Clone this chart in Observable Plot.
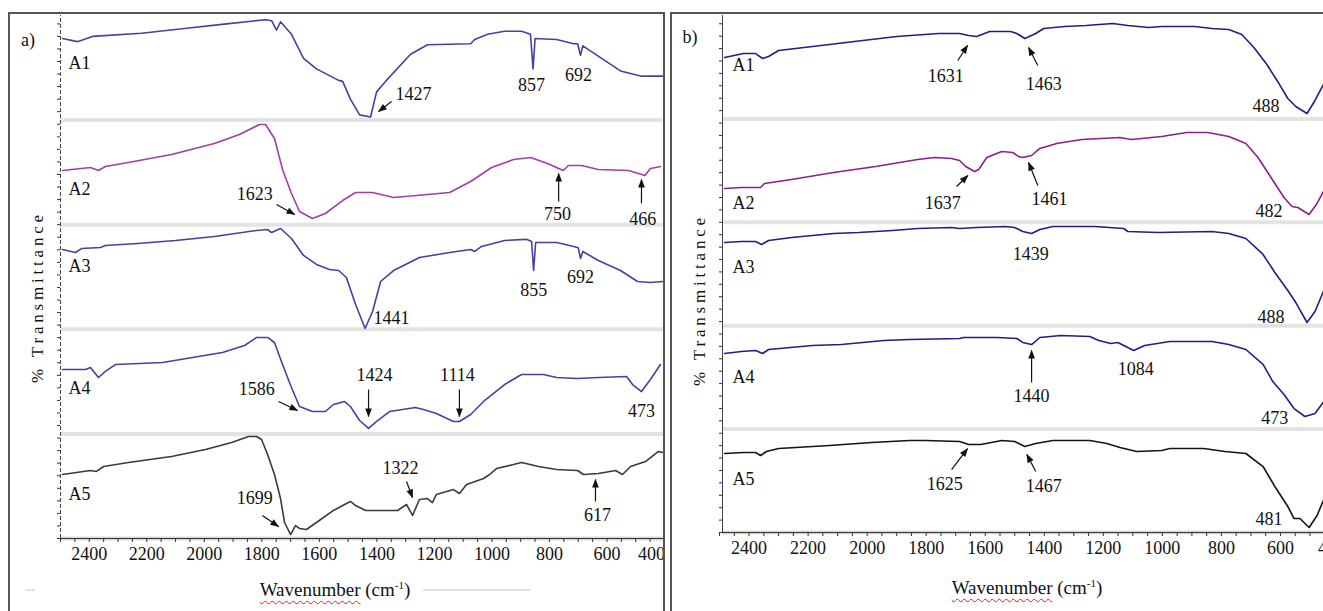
<!DOCTYPE html>
<html><head><meta charset="utf-8">
<script src="https://cdn.jsdelivr.net/npm/d3@7"></script>
<script src="https://cdn.jsdelivr.net/npm/@observablehq/plot@0.6"></script>
<style>
body{margin:0;background:#fff}
#page{position:relative;width:1323px;height:611px;overflow:hidden;background:#fff;font-family:"Liberation Serif","Times New Roman",serif;color:#111}
.frame{position:absolute;border:2px solid #555;box-sizing:border-box;pointer-events:none}
.ylab{position:absolute;transform:translate(-50%,-50%) rotate(-90deg);font-size:17px;letter-spacing:3.8px;white-space:nowrap}
.xlab{position:absolute;transform:translate(-50%,-50%);font-size:19px;white-space:nowrap}
.plab{position:absolute;transform:translate(-50%,-50%);font-size:18px}
.wavy{text-decoration:underline wavy #e02020;text-decoration-thickness:1px;text-underline-offset:4px}
.gl{position:absolute;height:2px;background:#e2e2e2}
</style></head>
<body>
<div id="page">
  <div id="left" style="position:absolute;left:0;top:0;width:668px;height:611px"></div>
  <div id="right" style="position:absolute;left:665px;top:0;width:680px;height:611px"></div>
  <div class="frame" style="left:8px;top:12px;width:657px;height:640px"></div>
  <div class="frame" style="left:670px;top:12px;width:700px;height:640px"></div>
  <div class="plab" style="left:28px;top:40px">a)</div>
  <div class="plab" style="left:690px;top:37px">b)</div>
  <div class="ylab" style="left:38px;top:297px">% Transmittance</div>
  <div class="ylab" style="left:700px;top:300px">% Transmittance</div>
  <div class="gl" style="left:25px;top:589px;width:10px"></div>
  <div class="gl" style="left:423px;top:589px;width:107px"></div>
  <div class="xlab" style="left:335px;top:590px"><span class="wavy">Wavenumber</span> (cm<sup style="font-size:11px">-1</sup>)</div>
  <div class="xlab" style="left:1027px;top:588px"><span class="wavy">Wavenumber</span> (cm<sup style="font-size:11px">-1</sup>)</div>
</div>
<script>
// ---------- Panel a) : wavenumber (cm-1) and %T within each trace's band (0-100) ----------
const aWn1 = [2493,2441,2389,2218,2069,1923,1787,1766,1749,1735,1697,1655,1610,1533,1519,1492,1460,1422,1401,1370,1283,1224,1074,1060,1015,956,897,866,857,850,775,716,702,692,684,629,553,480,407];
const aT1  = [78,75,80,83,87.5,92,96,95,86,94,82,59,49,38,37,20,5,3,27,37,63,72,73,77,82,85,85,82,49,78,77,73,73,62,71,61,47,42,42];
const aWn2 = [2493,2396,2368,2344,2264,2114,1965,1878,1808,1787,1756,1728,1697,1669,1624,1579,1519,1474,1415,1342,1224,1147,1074,1001,925,866,807,752,734,689,630,525,468,449,414];
const aT2  = [51.8,54.7,51.8,55.6,59.5,67.1,77.6,86.2,95.8,95.8,82.4,52.8,29.8,12.6,5.9,10.7,23.1,30.8,30.8,26,28.9,30.8,41.3,54.7,62.3,64.2,58.5,51.8,56.6,56.6,52.8,51.8,47,53.7,55.6];
const aWn3 = [2493,2448,2427,2361,2344,2232,2100,1965,1818,1780,1766,1735,1697,1655,1610,1565,1533,1506,1474,1441,1415,1387,1342,1252,1147,1074,1060,1036,956,880,862,855,848,775,716,700,692,684,630,553,494,449,407];
const aT3  = [76.3,73.4,77.2,78.2,80.1,82,84.9,88.7,94.5,95.4,92.5,96.4,86.8,70.6,62,57.2,56.2,49.5,23.7,0.8,17,45.7,56.2,68.6,73.4,76.3,74.4,79.2,84.9,86,84,56.2,83,83,79.2,78,67.7,74.4,65.8,56.2,45.7,44.7,45.7];
const aWn4 = [2493,2413,2396,2368,2344,2309,2145,2041,1937,1860,1818,1780,1756,1728,1697,1669,1624,1579,1551,1513,1492,1460,1429,1401,1356,1266,1238,1193,1134,1113,1074,1029,956,897,821,775,702,630,532,511,480,449,414];
const aT4  = [61.6,61.6,63.5,53.9,59.7,66.3,68.3,73,77.8,84.5,92.2,92.2,87.4,66.3,44.4,26.2,21.4,21.4,28.1,31,26.2,12.8,5.2,11.9,21.4,25.2,23.3,19.5,11.9,11.9,18.5,31,47.2,56.8,56.8,53.9,53,53.9,54.9,47.2,40.5,52,66.3];
const aWn5 = [2493,2396,2375,2350,2264,2114,1996,1905,1846,1818,1801,1780,1756,1735,1721,1700,1683,1669,1645,1610,1551,1519,1492,1474,1439,1401,1328,1297,1276,1252,1224,1207,1193,1134,1113,1088,1029,1008,984,925,897,838,775,702,682,630,570,546,518,466,421,407];
const aT5  = [61.2,65,64.1,68.8,72.7,78.4,85.1,91.8,97.5,97.5,94.6,80.3,61.2,38.2,15.3,3.8,12.4,9.6,8.6,15.3,26.8,31.5,35.4,31.5,26.8,26.8,26.8,32.5,22,37.3,38.2,34.4,42.1,46.8,43,51.6,57.4,61.2,66.9,70.7,72.7,68.8,66,65,61.2,62.1,65,61.2,68.8,73.6,83.2,82.2];

// ---------- Panel b) ----------
const bWn1 = [2483,2419,2378,2354,2334,2300,2185,2043,1900,1758,1687,1656,1629,1585,1514,1493,1466,1429,1402,1331,1259,1168,1117,1046,1002,890,832,775,731,690,646,605,575,548,510,483,453,412];
const bT1  = [59.4,63.2,63.2,58.4,60.3,66.2,70,74.9,79.7,82.6,82.6,80.7,79.7,84.5,84.5,82.6,77.8,82.6,87.4,89.4,90.3,92.3,90.3,88.4,89.4,89.4,87.4,86.5,81.6,69,52.6,34.2,19.7,12,5.2,17.8,34.2,66];
const bWn2 = [2483,2426,2361,2348,2256,2114,1971,1829,1771,1714,1687,1666,1636,1622,1595,1544,1507,1487,1473,1443,1415,1358,1273,1144,1104,1002,917,846,775,717,676,632,588,561,541,503,476,449,410];
const bT2  = [32.7,33.7,33.7,37.5,41.4,48.2,54,60.7,62.7,61.7,59.8,54,49.1,51.1,62.7,68.5,67.5,63.6,62.7,64.6,71.4,76.2,80.1,82,80.1,83,86.8,86.8,83,76.2,62.7,43.3,24,15.3,14.3,7.5,18.2,32.7,60];
const bWn3 = [2483,2426,2378,2358,2334,2256,2114,2029,1914,1829,1714,1687,1629,1531,1500,1473,1443,1415,1371,1229,1131,1117,1015,832,775,717,659,619,575,548,510,483,449,410];
const bT3  = [80.5,81.4,81.4,78.5,82.4,85.3,89.2,90.1,92.1,94,95,94,95,95.9,95,91.1,89.2,93,95.9,95.9,94,91.1,90.1,91.1,89.2,84.3,68.9,51.5,34,22.4,3.1,13.7,36.9,65];
const bWn4 = [2483,2426,2378,2354,2334,2185,2087,2015,1944,1856,1687,1673,1558,1493,1473,1443,1415,1344,1246,1215,1175,1151,1097,1060,975,832,775,717,659,626,588,554,517,483,453,412];
const bT4  = [73.1,75,76,73.1,77,80.9,81.8,83.8,85.7,86.7,87.6,88.6,88.6,87.6,83.8,81.8,88.6,90.5,89.6,85.7,82.8,83.8,76,80.9,84.7,84.7,81.8,77,62.5,46,33.5,19.9,12.2,15.1,26.7,55];
const bWn5 = [2483,2419,2378,2361,2341,2300,2127,1985,1856,1802,1687,1656,1615,1544,1500,1466,1429,1371,1246,1188,1144,1087,1002,975,860,788,717,659,619,575,554,534,503,476,449,410];
const bT5  = [76.4,77.4,77.4,74.5,78.3,81.2,84.1,87,89,89,88,85.1,85.1,89,88,83.2,86.1,89,89,86.1,82.2,78.3,79.3,81.2,81.2,78.3,76.4,63.8,44.5,25.1,13.5,13.5,4.8,16.4,34.8,62];

const sampleNames = ["A1","A2","A3","A4","A5"];
const aNameWn = 2472, aNameT = [54,33.7,60,43.4,42.1];
const bNameWn = 2456, bNameT = [51.6,18.2,56.3,49.9,51.3];

// tick labels
const xTickLabels = [2400,2200,2000,1800,1600,1400,1200,1000,800,600];
const xEdgeLabel = [400];

// peak labels: [trace index, text, wavenumber, %T]
const aPeaks = [[0,"1427",1273,24.5],[0,"857",862,33],[0,"692",699,42.6],
  [1,"1623",1825,28.9],[1,"750",772,9.8],[1,"466",476,5],
  [2,"1441",1349,10.3],[2,"855",855,37.1],[2,"692",692,49.5],
  [3,"1586",1818,42.4],[3,"1424",1408,55.8],[3,"1114",1120,55.8],[3,"473",480,21.4],
  [4,"1699",1825,38.2],[4,"1322",1318,66.9],[4,"617",633,22]];
const bPeaks = [[0,"1631",1734,41],[0,"1463",1402,33.3],[0,"488",649,12],
  [1,"1637",1744,18.2],[1,"1461",1382,22],[1,"482",639,10.4],
  [2,"1439",1446,68.9],[2,"488",632,7.9],
  [3,"1440",1443,31.5],[3,"1084",1090,57.6],[3,"473",619,10.3],
  [4,"1625",1737,46.4],[4,"1467",1402,44.5],[4,"481",639,12.6]];
// arrows: [trace index, tail wn, tail %T, tip wn, tip %T]
const aArrows = [[0,1349,17.8,1394,8.2],
  [1,1749,19.3,1686,9.8],[1,768,22.2,768,49],[1,480,20.3,480,43.2],
  [3,1742,31,1676,22.4],[3,1429,42.4,1429,16.6],[3,1113,42.4,1113,16.6],
  [4,1798,22,1742,11.5],[4,1297,54.5,1276,39.2],[4,640,35.4,640,56.4]];
const bArrows = [[0,1693,56.5,1660,71],[0,1422,51.6,1453,69],
  [1,1697,34.6,1659,45.3],[1,1422,35.6,1453,57.8],
  [3,1443,45.1,1443,76],
  [4,1714,60.9,1660,81.2],[4,1429,59,1459,75.4]];

const aColors = ["#4242a6","#a23ea6","#4242a6","#4242a6","#3a3a3a"];
const bColors = ["#1e1e8c","#8c1f8c","#1e1e8c","#1e1e8c","#141414"];

const off = i => 100 * (4 - i);

function panel(cfg) {
  const rows = cfg.traces.map(([wn, t], i) => wn.map((w, j) => ({wn: w, u: t[j] + off(i)})));
  const names = sampleNames.map((n, i) => ({text: n, wn: cfg.nameWn, u: cfg.nameT[i] + off(i)}));
  const peaks = cfg.peaks.map(([i, text, wn, t]) => ({text, wn, u: t + off(i)}));
  const arrows = cfg.arrows.map(([i, w1, t1, w2, t2]) => ({w1, u1: t1 + off(i), w2, u2: t2 + off(i)}));
  const xl = cfg.domain[0], xr = cfg.domain[1];
  const svg = Plot.plot({
    width: cfg.width, height: 611,
    marginLeft: cfg.range[0], marginRight: Math.max(0, cfg.width - cfg.range[1]),
    marginTop: 15, marginBottom: 611 - cfg.bottom,
    x: {domain: cfg.domain, range: cfg.range},
    y: {domain: [0, 500], range: [cfg.bottom, 15]},
    style: {background: "transparent", maxWidth: "none", overflow: cfg.overflow, fontFamily: '"Liberation Serif","Times New Roman",serif', color: "#111"},
    marks: [
      Plot.ruleY([100, 200, 300, 400], {x1: xl, x2: xr, stroke: "#e3e3e3", strokeWidth: 4}),
      Plot.ruleY([0], {x1: xl, x2: xr, stroke: "#d9d9d9", strokeWidth: 4}),
      Plot.ruleY([0], {x1: xl, x2: xr, stroke: "#333", strokeWidth: 1}),
      Plot.ruleX([xl], {y1: 0, y2: 500, stroke: "#444", strokeDasharray: cfg.dash}),
      Plot.axisY(d3.range(0, 501, 12), {tickSize: 3, tickFormat: () => "", label: null, stroke: "#333"}),
      Plot.axisX(d3.range(400, 2501, 50), {tickSize: 4, tickFormat: () => "", label: null, stroke: "#333"}),
      Plot.axisX(xTickLabels, {tickSize: 0, tickPadding: 9, tickFormat: "d", label: null, fontSize: 18, fill: "#111"}),
      Plot.axisX(xEdgeLabel, {tickSize: 0, tickPadding: 9, tickFormat: "d", label: null, fontSize: 18, fill: "#111", dx: cfg.edgeDx}),
      ...rows.map((r, i) => Plot.line(r, {x: "wn", y: "u", stroke: cfg.colors[i], strokeWidth: 1.6})),
      Plot.text(names, {x: "wn", y: "u", text: "text", textAnchor: "start", fontSize: 18, fill: "#111"}),
      Plot.text(peaks, {x: "wn", y: "u", text: "text", textAnchor: "middle", fontSize: 18, fill: "#111"}),
      Plot.link(arrows, {x1: "w1", y1: "u1", x2: "w2", y2: "u2", stroke: "#111", strokeWidth: 1.2, markerEnd: "arrow"})
    ]
  });
  svg.querySelectorAll("marker").forEach(m => {
    m.setAttribute("overflow", "visible");
    m.setAttribute("fill", "#111");
    m.setAttribute("stroke", "none");
    const p = m.querySelector("path");
    if (p) p.setAttribute("d", "M-10,-4.2L1,0L-10,4.2Z");
  });
  return svg;
}

document.getElementById("left").appendChild(panel({
  traces: [[aWn1, aT1], [aWn2, aT2], [aWn3, aT3], [aWn4, aT4], [aWn5, aT5]],
  colors: aColors, nameWn: aNameWn, nameT: aNameT, peaks: aPeaks, arrows: aArrows,
  domain: [2500, 400], range: [60, 664], width: 668, bottom: 538, dash: "4,2", overflow: "hidden", edgeDx: -13
}));
document.getElementById("right").appendChild(panel({
  traces: [[bWn1, bT1], [bWn2, bT2], [bWn3, bT3], [bWn4, bT4], [bWn5, bT5]],
  colors: bColors, nameWn: bNameWn, nameT: bNameT, peaks: bPeaks, arrows: bArrows,
  domain: [2490, 400], range: [57, 674], width: 680, bottom: 532, dash: null, overflow: "visible", edgeDx: -8
}));
</script>
</body></html>
